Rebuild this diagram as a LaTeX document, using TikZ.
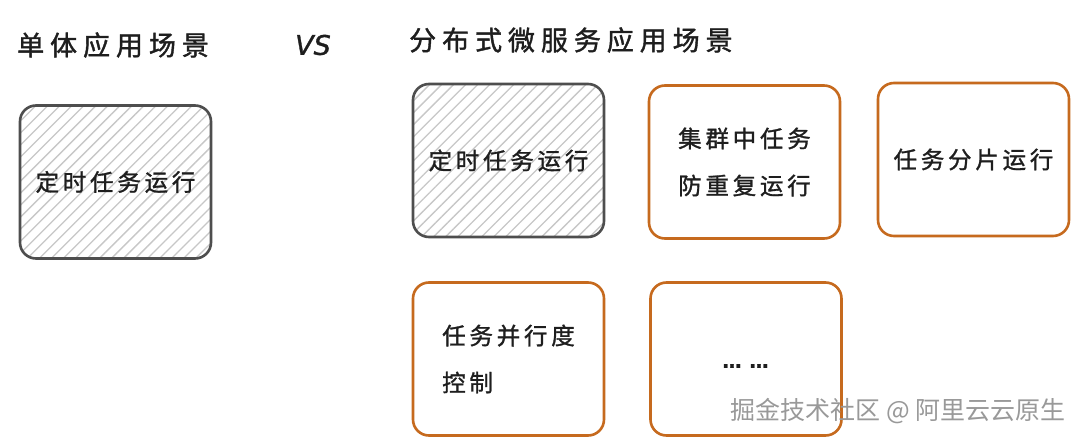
\documentclass[tikz,border=0pt]{standalone}
\usepackage{fontspec}
\setmainfont{Noto Sans CJK SC}
\newfontfamily\cjk[LetterSpace=16,FakeBold=1.2]{Noto Sans CJK SC}
\newfontfamily\cjktitle[LetterSpace=22,FakeBold=1.4]{Noto Sans CJK SC}
\newfontfamily\vsfont[FakeBold=1.2]{DejaVu Sans}
\usetikzlibrary{patterns.meta}
\definecolor{boxorange}{RGB}{198,106,30}
\definecolor{boxgray}{RGB}{78,78,78}
\definecolor{inkc}{RGB}{30,30,30}
\tikzset{
  box/.style={draw, line width=2.6pt, rounded corners=16pt, minimum width=191pt, minimum height=153pt, inner sep=0pt, text=inkc, font=\cjk\fontsize{23.5}{47}\selectfont, align=center},
  hatchbox/.style={box, draw=boxgray, pattern={Lines[angle=45,distance=8.5pt,line width=1.3pt]}, pattern color=black!22},
  orangebox/.style={box, draw=boxorange, fill=white},
  title/.style={text=inkc, font=\cjktitle\fontsize{27}{32}\selectfont, anchor=west, inner sep=0pt},
}
\begin{document}
\begin{tikzpicture}[x=1pt,y=-1pt]
\useasboundingbox (0,0) rectangle (1080,442);
\fill[white] (0,0) rectangle (1080,442);
\node[title] (t1) at (17,45) {单体应用场景};
\node[text=inkc, font=\vsfont\itshape\fontsize{27}{32}\selectfont, inner sep=0pt] (vs) at (313,45) {VS};
\node[title] (t2) at (409,40) {分布式微服务应用场景};
\node[hatchbox] (b1) at (115.5,182) {定时任务运行};
\node[hatchbox] (b2) at (508.5,160.5) {定时任务运行};
\node[orangebox] (b3) at (744.5,162) {集群中任务\\防重复运行};
\node[orangebox] (b4) at (973.5,159.5) {任务分片运行};
\node[orangebox, align=left] (b5) at (508.5,359) {任务并行度\\控制};
\node[orangebox] (b6) at (746,359) {};
\node[text=inkc, font=\vsfont\bfseries\fontsize{19}{22}\selectfont, inner sep=0pt] (dots) at (745.5,366) {…\hspace{8pt}…};
\node[text=black!40, font=\fontsize{25}{28}\selectfont, anchor=east, inner sep=0pt] (wm) at (1066,411) {掘金技术社区 @ 阿里云云原生};
\end{tikzpicture}
\end{document}
